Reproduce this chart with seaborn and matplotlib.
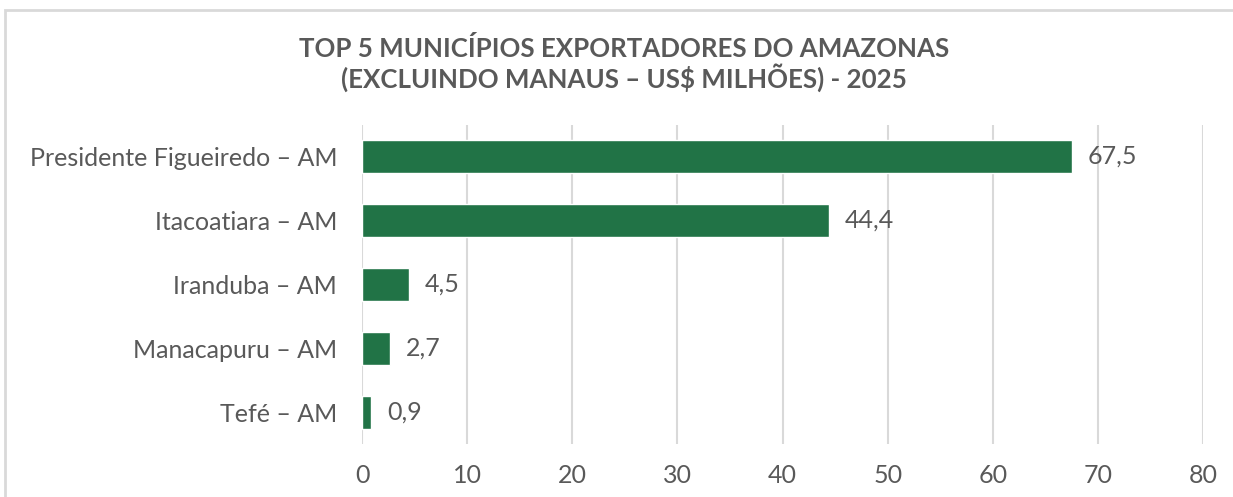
import matplotlib
matplotlib.use('Agg')
import pandas as pd
import matplotlib.pyplot as plt
import seaborn as sns
from matplotlib.patches import Rectangle

# dados do grafico (US$ milhoes)
municipios = ["Presidente Figueiredo – AM", "Itacoatiara – AM", "Iranduba – AM",
              "Manacapuru – AM", "Tefé – AM"]
valores = [67.5, 44.4, 4.5, 2.7, 0.9]
xticks = [0, 10, 20, 30, 40, 50, 60, 70, 80]

df = pd.DataFrame({"municipio": municipios, "valor": valores})

sns.set_style("white")
plt.rcParams['font.family'] = ['Lato', 'DejaVu Sans']
cinza = "#595959"
verde = "#217346"

fig = plt.figure(figsize=(12.33, 4.97), dpi=100)
ax = fig.add_axes([0.2936, 0.1063, 0.6821, 0.6430])

sns.barplot(data=df, x="valor", y="municipio", color=verde, width=0.52,
            saturation=1, ax=ax, zorder=3)

for i, v in enumerate(df["valor"]):
    ax.text(v + 1.5, i, ("%.1f" % v).replace(".", ","), va="center", ha="left",
            fontsize=18, color=cinza, zorder=4)

ax.set_xlim(0, 80)
ax.set_xticks(xticks)
ax.set_xticklabels([str(t) for t in xticks], fontsize=18, color=cinza)
ax.set_yticklabels(municipios, fontsize=18, color=cinza)
ax.tick_params(axis="x", length=0, pad=14)
ax.tick_params(axis="y", length=0, pad=18)
ax.xaxis.grid(True, color="#D9D9D9", linewidth=1.5, zorder=0)
ax.set_xlabel("")
ax.set_ylabel("")
for s in ax.spines.values():
    s.set_visible(False)

fig.text(0.506, 0.871, "TOP 5 MUNICÍPIOS EXPORTADORES DO AMAZONAS\n(EXCLUINDO MANAUS – US$ MILHÕES) - 2025",
         ha="center", va="center", fontsize=18.6, fontweight="bold", color=cinza,
         linespacing=1.07)

# moldura do grafico
fig.patches.append(Rectangle((5 / 1233, -0.1), 1.2, 1.1 - 9.5 / 497, transform=fig.transFigure,
                             fill=False, edgecolor="#D9D9D9", linewidth=2))

fig.savefig("out.png", dpi=100)
